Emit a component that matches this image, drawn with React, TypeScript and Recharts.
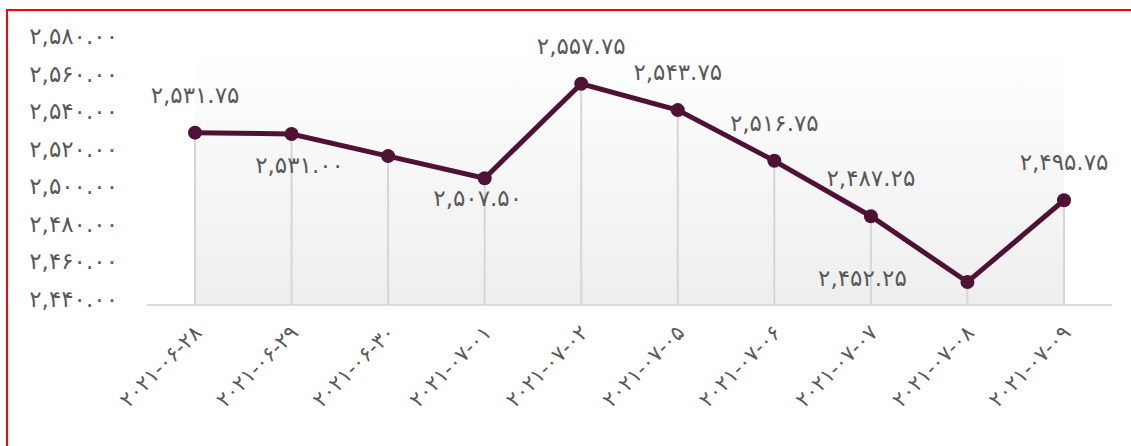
import React from 'react'
import { LineChart, Line, XAxis, YAxis, ReferenceArea } from 'recharts'

const dates = ['۲۰۲۱-۰۶-۲۸', '۲۰۲۱-۰۶-۲۹', '۲۰۲۱-۰۶-۳۰', '۲۰۲۱-۰۷-۰۱', '۲۰۲۱-۰۷-۰۲', '۲۰۲۱-۰۷-۰۵', '۲۰۲۱-۰۷-۰۶', '۲۰۲۱-۰۷-۰۷', '۲۰۲۱-۰۷-۰۸', '۲۰۲۱-۰۷-۰۹']
const prices = [2531.75, 2531.0, 2519.25, 2507.5, 2557.75, 2543.75, 2516.75, 2487.25, 2452.25, 2495.75]
// which labels are shown and where they sit relative to the point
const labelPlace = ['top', 'bottom', 'none', 'bottomLeft', 'top', 'top', 'top', 'top', 'left', 'top']
const yTicks = [2440, 2460, 2480, 2500, 2520, 2540, 2560, 2580]

const LINE = '#4f1234'
const TEXT = '#595959'
const FONT = '"DejaVu Sans", sans-serif'
const TOP = 31
const PLOT_BOTTOM = 294

const faDigits = '۰۱۲۳۴۵۶۷۸۹'
const fa = (v: number) =>
  v.toLocaleString('en-US', { minimumFractionDigits: 2, maximumFractionDigits: 2 })
    .replace(/\d/g, d => faDigits[+d])

const offsets: Record<string, [number, number]> = {
  top: [0, -38],
  bottom: [8, 31],
  bottomLeft: [-7, 20],
  left: [-105, -4],
}

const PointLabel = (props: any) => {
  const { x, y, index, value } = props
  const place = labelPlace[index]
  if (place === 'none' || x == null) return null
  const [dx, dy] = offsets[place]
  return (
    <text x={x + dx} y={y + dy} textAnchor="middle" dominantBaseline="central"
      fill={TEXT} fontSize={23} fontFamily={FONT}>
      {fa(value)}
    </text>
  )
}

const DropDot = (props: any) => {
  const { cx, cy, index } = props
  if (cx == null || cy == null) return null
  return (
    <g key={'d' + index}>
      <line x1={cx} x2={cx} y1={cy} y2={PLOT_BOTTOM} stroke="#d6d6d6" strokeWidth={2} />
      <circle cx={cx} cy={cy} r={7} fill={LINE} />
    </g>
  )
}

const XTick = (props: any) => {
  const { x, y, payload } = props
  const tx = x + 8
  const ty = y + 29
  return (
    <text x={tx} y={ty} transform={`rotate(-45 ${tx} ${ty})`} textAnchor="end"
      fill={TEXT} fontSize={21} fontFamily={FONT}>
      {payload.value}
    </text>
  )
}

const YTick = (props: any) => {
  const { x, y, payload } = props
  return (
    <text x={x} y={y - 6} textAnchor="end" dominantBaseline="central"
      fill={TEXT} fontSize={23} fontFamily={FONT}>
      {fa(payload.value)}
    </text>
  )
}

export default function App() {
  const data = dates.map((d, i) => ({ date: d, price: prices[i] }))
  return (
    <div style={{ position: 'fixed', left: 6, top: 9, width: 1125, height: 437, overflow: 'hidden', borderLeft: '2px solid #ff0000', borderTop: '2px solid #ff0000', background: '#fff' }}>
      <LineChart width={1123} height={435} data={data} margin={{ top: TOP, right: 19, left: 0, bottom: 0 }}>
        <defs>
          <linearGradient id="plotBg" x1="0" y1="0" x2="0" y2="1">
            <stop offset="0%" stopColor="#ffffff" />
            <stop offset="100%" stopColor="#eeeeee" />
          </linearGradient>
        </defs>
        <ReferenceArea y1={2440} y2={2580} fill="url(#plotBg)" fillOpacity={1} stroke="none" ifOverflow="visible" />
        <XAxis dataKey="date" padding={{ left: 48, right: 48 }} height={141} interval={0}
          axisLine={{ stroke: '#dcdcdc', strokeWidth: 2 }} tickLine={false} tickSize={0} tickMargin={0}
          tick={<XTick />} />
        <YAxis domain={[2440, 2580]} ticks={yTicks} width={139} axisLine={false} tickLine={false}
          tickSize={0} tickMargin={29} tick={<YTick />} />
        <Line dataKey="price" stroke={LINE} strokeWidth={5} isAnimationActive={false}
          dot={DropDot} activeDot={false} label={PointLabel} />
      </LineChart>
    </div>
  )
}
